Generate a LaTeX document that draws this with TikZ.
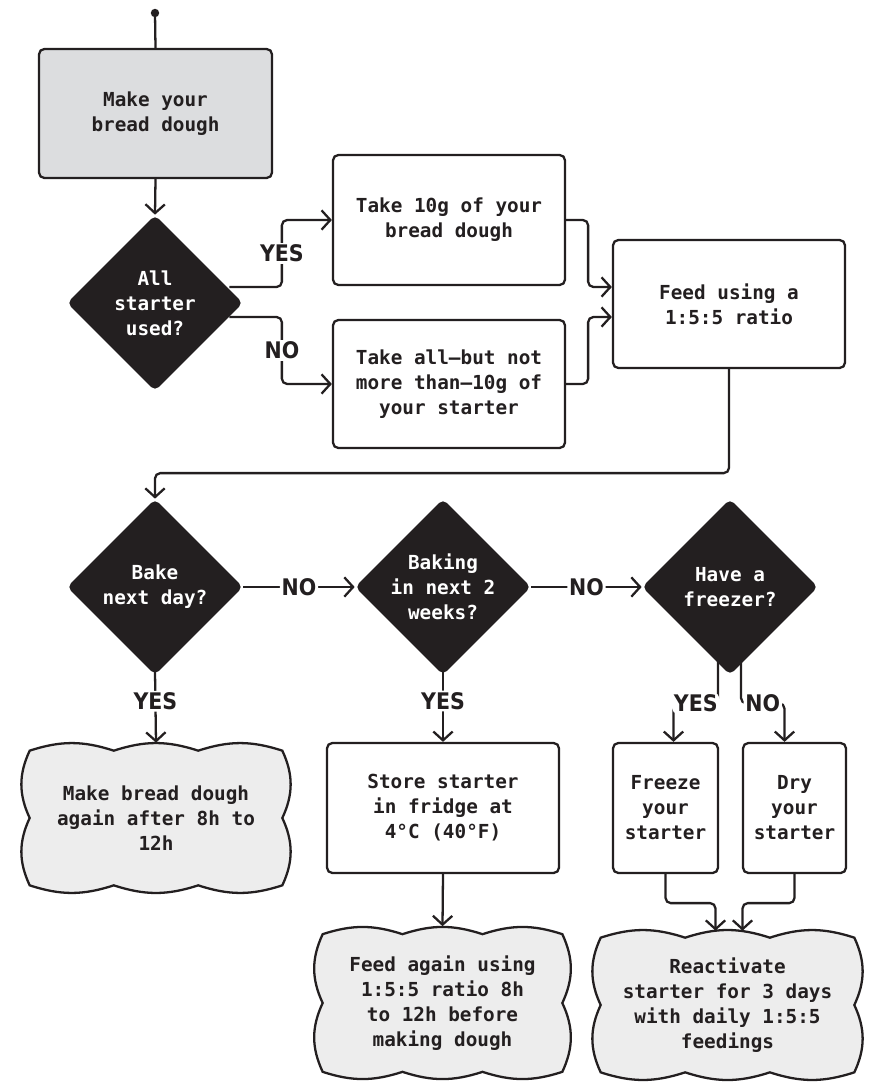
\documentclass[tikz,border=0pt]{standalone}
\usepackage{fontspec}
\setmonofont{DejaVu Sans Mono}
\newfontfamily\yesnofont{DejaVu Sans Condensed}
\usetikzlibrary{shapes.geometric,arrows.meta,calc,backgrounds}

\definecolor{ink}{HTML}{231F20}
\definecolor{startgray}{HTML}{DCDDDF}
\definecolor{puffgray}{HTML}{EDEDED}

\tikzset{
  box/.style={draw=ink, line width=1.3pt, rounded corners=3pt, fill=white, text=ink,
    align=center, inner sep=0pt, font=\ttfamily\bfseries\fontsize{11}{14.2}\selectfont},
  choice/.style={diamond, aspect=1, fill=ink, rounded corners=3pt, text=white, align=center,
    inner sep=0pt, minimum size=3.52cm, font=\ttfamily\bfseries\fontsize{11}{14.2}\selectfont},
  puff/.style={inner sep=0pt, align=center, text=ink,
    font=\ttfamily\bfseries\fontsize{11}{14.2}\selectfont},
  flow/.style={draw=ink, line width=1.3pt, rounded corners=3pt,
    -{Straight Barb[length=5pt,width=11pt]}},
  lbl/.style={fill=white, inner sep=1pt, text=ink,
    font=\yesnofont\bfseries\fontsize{13}{13}\selectfont},
}

% wavy outline round a puff node
\newcommand\puffline[1]{%
  \draw[ink, line width=1.3pt, fill=puffgray]
    (#1.north west) to[bend left=18] ($(#1.north west)!.333!(#1.north east)$)
    to[bend left=18] ($(#1.north west)!.667!(#1.north east)$)
    to[bend left=18] (#1.north east)
    to[bend left=25] (#1.east)
    to[bend left=25] (#1.south east)
    to[bend left=18] ($(#1.south east)!.333!(#1.south west)$)
    to[bend left=18] ($(#1.south east)!.667!(#1.south west)$)
    to[bend left=18] (#1.south west)
    to[bend left=25] (#1.west)
    to[bend left=25] (#1.north west) -- cycle;}

\begin{document}
\begin{tikzpicture}[x=0.02cm, y=-0.02cm]
    \useasboundingbox (0,0) rectangle (872,1085);

    % steps
    \coordinate (start) at (155,13);
    \node[box, fill=startgray, minimum width=4.66cm, minimum height=2.58cm] (dough) at (155.5,113.5) {Make your\\bread dough};
    \node[choice] (used) at (155,303) {All\\starter\\used?};
    \node[box, minimum width=4.64cm, minimum height=2.6cm] (take10) at (449,220) {Take 10g of your\\bread dough};
    \node[box, minimum width=4.64cm, minimum height=2.56cm] (takeall) at (449,384) {Take all—but not\\more than—10g of\\your starter};
    \node[box, minimum width=4.64cm, minimum height=2.56cm] (feed) at (729,304) {Feed using a\\1:5:5 ratio};

    \node[choice] (bakeday) at (155,587) {Bake\\next day?};
    \node[choice] (bake2w) at (443,587) {Baking\\in next 2\\weeks?};
    \node[choice] (freezer) at (730,587) {Have a\\freezer?};

    \node[puff, minimum width=5.04cm, minimum height=2.68cm] (again) at (156,818) {Make bread dough\\again after 8h to\\12h};
    \node[box, minimum width=4.64cm, minimum height=2.6cm] (store) at (443,808) {Store starter\\in fridge at\\4°C (40°F)};
    \node[box, minimum width=2.1cm, minimum height=2.6cm] (freeze) at (665.5,808) {Freeze\\your\\starter};
    \node[box, minimum width=2.06cm, minimum height=2.6cm] (dry) at (794.5,808) {Dry\\your\\starter};

    \node[puff, minimum width=4.78cm, minimum height=2.74cm] (fridgefeed) at (442.5,1003) {Feed again using\\1:5:5 ratio 8h\\to 12h before\\making dough};
    \node[puff, minimum width=5.06cm, minimum height=2.68cm] (revive) at (727.5,1005) {Reactivate\\starter for 3 days\\with daily 1:5:5\\feedings};

    \begin{scope}[on background layer]
        \puffline{again}
        \puffline{fridgefeed}
        \puffline{revive}
    \end{scope}

    % connectors
    \fill[ink] (start) circle (2.4pt);
    \draw[ink, line width=1.3pt] (start) -- (dough.north);
    \draw[flow] (dough.south) -- (used.north);
    \draw[flow] ($(used.east)+(-14,-16)$) -| node[lbl, pos=.75] {YES} ($(take10.west)+(-50,0)$) -- (take10.west);
    \draw[flow] ($(used.east)+(-14,14)$) -| node[lbl, pos=.75] {NO} ($(takeall.west)+(-50,0)$) -- (takeall.west);
    \draw[flow] (take10.east) -- ++(22,0) |- ($(feed.west)+(0,-17)$);
    \draw[flow] (takeall.east) -- ++(22,0) |- ($(feed.west)+(0,13)$);
    \draw[flow] (feed.south) -- ++(0,104) -| (bakeday.north);

    \draw[flow] (bakeday.east) -- node[lbl] {NO} (bake2w.west);
    \draw[flow] (bake2w.east) -- node[lbl] {NO} (freezer.west);
    \draw[flow] ($(bakeday.south)+(0,-4)$) -- node[lbl, pos=.42] {YES} ($(again.north)+(0,-8)$);
    \draw[flow] ($(bake2w.south)+(0,-4)$) -- node[lbl, pos=.42] {YES} (store.north);
    \draw[flow] ($(freezer.south)+(-12,-20)$) -- ++(0,48) -| node[lbl, pos=.25] {YES} ($(freeze.north)+(8,0)$);
    \draw[flow] ($(freezer.south)+(11,-20)$) -- ++(0,48) -| node[lbl, pos=.25] {NO} ($(dry.north)+(-10,0)$);

    \draw[flow] (store.south) -- ($(fridgefeed.north)+(0,-8)$);
    \draw[flow] (freeze.south) -- ++(0,29) -| ($(revive.north)+(-12,-7)$);
    \draw[flow] (dry.south) -- ++(0,29) -| ($(revive.north)+(15,-7)$);
\end{tikzpicture}
\end{document}
